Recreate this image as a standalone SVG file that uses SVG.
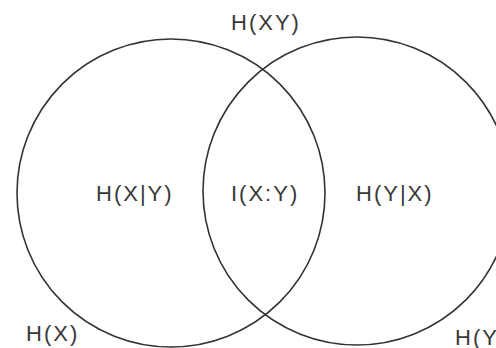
<svg xmlns="http://www.w3.org/2000/svg" width="496" height="348" viewBox="0 0 496 348">
  <style>
    .set { fill: none; stroke: #333333; stroke-width: 1.6; }
    .lbl { font-family: "Liberation Sans", Arial, sans-serif; font-size: 22px; letter-spacing: 2px; fill: #383838; }
  </style>
  <rect width="496" height="348" fill="#ffffff"/>
  <g id="set-x">
    <circle class="set" cx="171" cy="193" r="154"/>
    <text class="lbl" x="26" y="341">H(X)</text>
  </g>
  <g id="set-y">
    <circle class="set" cx="357" cy="191" r="154"/>
    <text class="lbl" x="455" y="345">H(Y)</text>
  </g>
  <g id="region-labels">
    <text class="lbl" x="231" y="30">H(XY)</text>
    <text class="lbl" x="96" y="201">H(X|Y)</text>
    <text class="lbl" x="231" y="201">I(X:Y)</text>
    <text class="lbl" x="356" y="201">H(Y|X)</text>
  </g>
</svg>
